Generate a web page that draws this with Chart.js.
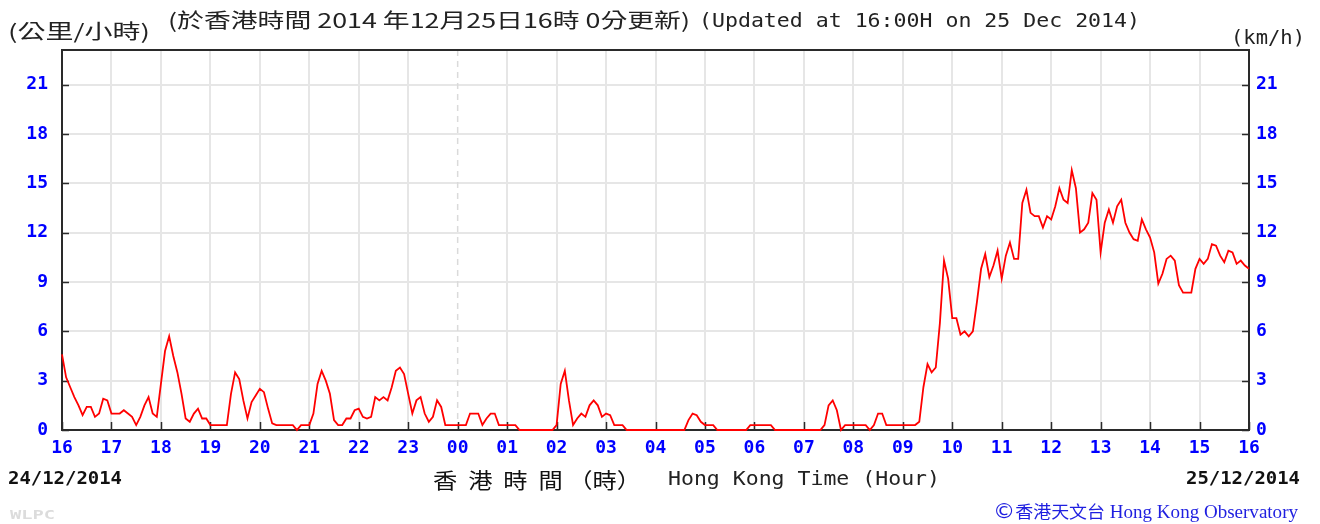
<!DOCTYPE html>
<html><head><meta charset="utf-8">
<script src="https://cdn.jsdelivr.net/npm/chart.js@4.4.1/dist/chart.umd.min.js"></script>
<style>
html,body{margin:0;padding:0;background:#fff;}
#wrap{position:relative;width:1320px;height:524px;overflow:hidden;background:#fff;}
#c{position:absolute;left:0;top:0;}
.t{position:absolute;left:0;top:0;white-space:pre;line-height:1;transform-origin:0 50%;}
.cjk{font-family:"Noto Sans CJK TC","Noto Sans CJK SC",sans-serif;}
.mono{font-family:"DejaVu Sans Mono",monospace;}
</style></head>
<body>
<div id="wrap">
<canvas id="c" width="1320" height="524"></canvas>
<div class="t cjk" data-x0="8" data-x1="150" data-cy="31" style="font-size:20px;color:#222;">(公里/小時)</div>
<div class="t cjk" data-x0="168" data-x1="690" data-cy="20" style="font-size:20px;color:#222;">(於香港時間 2014 年12月25日16時 0分更新)</div>
<div class="t mono" data-x0="699" data-x1="1140" data-cy="20" style="font-size:20px;color:#222;">(Updated at 16:00H on 25 Dec 2014)</div>
<div class="t mono" data-x0="1231" data-x1="1305" data-cy="37" style="font-size:20px;color:#222;">(km/h)</div>
<div class="t mono" data-x0="8" data-x1="122" data-cy="478" style="font-size:18px;font-weight:bold;color:#111;">24/12/2014</div>
<div class="t mono" data-x0="1186" data-x1="1300" data-cy="478" style="font-size:18px;font-weight:bold;color:#111;">25/12/2014</div>
<div class="t cjk" data-x0="433" data-x1="641" data-cy="479" style="font-size:21px;color:#111;">香  港  時  間 （時）</div>
<div class="t mono" data-x0="668" data-x1="940" data-cy="478" style="font-size:20px;color:#222;">Hong Kong Time (Hour)</div>
<div class="t mono" data-x0="10" data-x1="55" data-cy="514" style="font-size:13px;font-weight:bold;color:#dcdcdc;">WLPC</div>
<div class="t" data-x0="993" data-x1="1298" data-cy="511" style="font-size:18px;color:#1f1fe0;"><span style="font-family:'DejaVu Sans';font-size:21px;">©</span><span class="cjk" style="font-size:17px;">香港天文台</span><span style="font-family:'Liberation Serif';"> Hong Kong Observatory</span></div>
</div>
<script>
// Hour tick labels (16:00 on 24 Dec to 16:00 on 25 Dec)
const hourLabels = ['16','17','18','19','20','21','22','23','00','01','02','03','04','05','06','07','08','09','10','11','12','13','14','15','16'];
// Wind speed (km/h), 5-minute readings, 24 Dec 16:00-23:55
const speedDay1 = [
  4.6,3.2,2.6,2.0,1.5,0.9,1.4,1.4,0.8,1.0,1.9,1.8,1.0,1.0,1.0,1.2,1.0,0.8,0.3,0.8,1.5,2.0,1.0,0.8,
  2.8,4.8,5.7,4.5,3.5,2.2,0.7,0.5,1.0,1.3,0.7,0.7,0.3,0.3,0.3,0.3,0.3,2.2,3.5,3.1,1.8,0.7,1.7,2.1,
  2.5,2.3,1.3,0.4,0.3,0.3,0.3,0.3,0.3,0,0.3,0.3,0.3,1.0,2.8,3.6,3.0,2.2,0.6,0.3,0.3,0.7,0.7,1.2,
  1.3,0.8,0.7,0.8,2.0,1.8,2.0,1.8,2.6,3.6,3.8,3.4,2.2,1.0,1.8,2.0,1.0,0.5,0.8,1.8,1.4,0.3,0.3,0.3
];
// Wind speed (km/h), 5-minute readings, 25 Dec 00:00-16:00
const speedDay2 = [
  0.3,0.3,0.3,1.0,1.0,1.0,0.3,0.7,1.0,1.0,0.3,0.3,0.3,0.3,0.3,0,0,0,0,0,0,0,0,0,
  0.3,2.8,3.6,1.8,0.3,0.7,1.0,0.8,1.5,1.8,1.5,0.8,1.0,0.9,0.3,0.3,0.3,0,0,0,0,0,0,0,
  0,0,0,0,0,0,0,0,0.6,1.0,0.9,0.5,0.3,0.3,0.3,0,0,0,0,0,0,0,0,0.3,
  0.3,0.3,0.3,0.3,0.3,0,0,0,0,0,0,0,0,0,0,0,0,0.3,1.5,1.8,1.2,0,0.3,0.3,
  0.3,0.3,0.3,0.3,0,0.3,1.0,1.0,0.3,0.3,0.3,0.3,0.3,0.3,0.3,0.3,0.5,2.6,4.0,3.5,3.8,6.5,10.3,9.2,
  6.8,6.8,5.8,6.0,5.7,6.0,7.8,9.8,10.7,9.3,10.0,10.9,9.2,10.6,11.4,10.4,10.4,13.8,14.6,13.2,13.0,13.0,12.3,13.0,
  12.8,13.6,14.7,14.0,13.8,15.8,14.7,12.0,12.2,12.6,14.4,14.0,10.8,12.6,13.4,12.6,13.6,14.0,12.6,12.0,11.6,11.5,12.8,12.2,
  11.7,10.8,8.9,9.5,10.4,10.6,10.3,8.8,8.35,8.35,8.35,9.8,10.4,10.1,10.4,11.3,11.2,10.6,10.2,10.9,10.8,10.1,10.3,10.0,
  9.8
];
const windSpeed = speedDay1.concat(speedDay2);
const minuteLabels = windSpeed.map((_, i) => i * 5);

const BLUE = '#0000ff';
const tickFont = {family:'DejaVu Sans Mono', weight:'bold', size:18};

const framePlugin = {
  id:'frame',
  beforeDatasetsDraw(chart){
    const {ctx, chartArea:a, scales} = chart;
    ctx.save();
    const xm = scales.x.getPixelForValue(480);
    ctx.strokeStyle = '#dadada'; ctx.lineWidth = 1.5; ctx.setLineDash([6,5]);
    ctx.beginPath(); ctx.moveTo(xm, a.top); ctx.lineTo(xm, a.bottom); ctx.stroke();
    ctx.setLineDash([]);
    ctx.strokeStyle = '#2a2a2a'; ctx.lineWidth = 2;
    ctx.strokeRect(a.left, a.top, a.right - a.left, a.bottom - a.top);
    ctx.lineWidth = 1.5;
    ctx.beginPath();
    scales.x.ticks.forEach(t => {
      const px = Math.round(scales.x.getPixelForValue(t.value)) + 0.5;
      ctx.moveTo(px, a.bottom); ctx.lineTo(px, a.bottom - 8);
    });
    scales.y.ticks.forEach(t => {
      const py = Math.round(scales.y.getPixelForValue(t.value)) + 0.5;
      ctx.moveTo(a.left, py); ctx.lineTo(a.left + 7, py);
      ctx.moveTo(a.right, py); ctx.lineTo(a.right - 7, py);
    });
    ctx.stroke();
    ctx.restore();
  }
};

new Chart(document.getElementById('c'), {
  type:'line',
  data:{
    labels: minuteLabels,
    datasets:[{data: windSpeed, borderColor:'#ff0000', borderWidth:1.8, pointRadius:0, tension:0, fill:false, clip:4}]
  },
  options:{
    responsive:false, animation:false, devicePixelRatio:1,
    layout:{padding:{top:50,left:0,right:0,bottom:0}},
    plugins:{legend:{display:false}, tooltip:{enabled:false}, title:{display:false}},
    scales:{
      x:{type:'linear', min:0, max:1440,
        ticks:{stepSize:60, autoSkip:false, maxRotation:0, minRotation:0, color:BLUE, font:tickFont, padding:8,
          callback:(v) => hourLabels[Math.round(v/60)]},
        grid:{color:(c) => (c.tick && c.tick.value === 480) ? 'rgba(0,0,0,0)' : '#e6e6e6', lineWidth:2, drawTicks:false},
        border:{display:false},
        afterFit:(s) => { s.height = 94; }
      },
      y:{position:'left', min:0, max:23.1,
        ticks:{stepSize:3, includeBounds:false, color:BLUE, font:tickFont, padding:14},
        grid:{color:'#e6e6e6', lineWidth:2, drawTicks:false},
        border:{display:false},
        afterFit:(s) => { s.width = 62; }
      },
      y2:{position:'right', min:0, max:23.1,
        ticks:{stepSize:3, includeBounds:false, color:BLUE, font:tickFont, padding:7},
        grid:{drawOnChartArea:false, drawTicks:false},
        border:{display:false},
        afterFit:(s) => { s.width = 71; }
      }
    }
  },
  plugins:[framePlugin]
});

function fitTexts(){
  document.querySelectorAll('.t').forEach(el => {
    el.style.transform = 'none';
    const r = el.getBoundingClientRect();
    const x0 = +el.dataset.x0, x1 = +el.dataset.x1, cy = +el.dataset.cy;
    el.style.left = x0 + 'px';
    el.style.top = (cy - r.height/2) + 'px';
    el.style.transform = 'scaleX(' + ((x1 - x0) / r.width) + ')';
  });
}
fitTexts();
if (document.fonts && document.fonts.ready) document.fonts.ready.then(fitTexts);
</script>
</body></html>
